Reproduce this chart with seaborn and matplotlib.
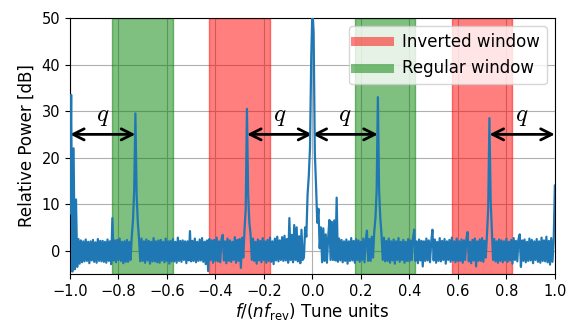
import numpy as np
import matplotlib
matplotlib.use("Agg")
import matplotlib.pyplot as plt
import seaborn as sns
from matplotlib.lines import Line2D

# ---- data (relative power in dB, one value per 0.005 tune units) ----
seg1 = [8, 33.5, -4.5, 22, -4, 11, -3.5, 2.5, -2.8, 2.2, -2.5, 2.0, -2.3, 2.4, -2.2, 1.9, -2.7, 2.0, -2.1, 2.3, -2.4, 1.8, -2.6, 2.5, -2.2]
seg2 = [2.1, -2.3, 2.1, -2.4, 1.9, -2.6, 2.4, -2.2, 2.0, -2.9, 7.0, -2.1, 2.2, -2.5, 2.3, -2.0, 2.6, -2.2, 1.9, -2.7, 2.0, -2.4, 2.3, -2.4, 1.9]
seg3 = [-2.0, 3.0, 6.5, 13, 29.5, 12, 6, 2.5, -2.3, 2.6, -2.2, 2.0, -2.6, 2.4, -2.1, 2.1, -2.8, 1.9, -2.3, 2.7, -2.3, 2.0, -2.5, 2.2, -2.6]
seg4 = [2.3, -2.1, 1.9, -2.5, 2.6, -2.2, 2.0, -2.8, 2.1, -2.3, 2.5, -2.3, 1.9, -2.6, 2.8, -2.2, 2.1, -2.4, 2.2, -2.0, 2.0, -2.7, 2.0, -2.1, 4.2]
seg5 = [-2.3, 2.1, -2.2, 2.6, -2.5, 1.9, -2.2, 2.4, -2.1, 2.7, -2.4, 1.9, -2.9, 2.2, -4.4, 2.5, -2.0, 2.2, -2.6, 2.3, -2.2, 2.8, -2.3, 2.0, -2.5]
seg6 = [2.4, 3.4, -2.1, 2.0, -2.7, 2.6, -2.2, 2.2, -2.4, 1.9, -2.0, 2.9, -2.6, 2.3, -2.2, 2.5, -3.7, 2.8, -1.5, 4.5, 9, 30.5, 12, 6, 3.5]
seg7 = [-2.0, 2.6, -2.2, 1.9, -2.8, 2.4, -2.1, 2.1, -2.5, 2.7, -2.0, 2.0, -2.6, 2.3, -2.2, 2.8, -2.4, 2.0, -2.9, 2.6, -2.1, 3.0, -2.3, 2.2, -2.0]
seg8 = [2.9, -2.2, 3.2, -2.1, 2.5, -2.6, 7.0, -2.0, 3.4, -2.5, 5.5, -2.0, 5.0, -2.3, 3.1, -2.7, 4.5, -2.0, -1.5, 5, 3, 12, 16, 22, 41]
seg9 = [52, 47, 21, 14, 6, 9, 0.5, 5, -2.5, 4.8, -2.2, 3.5, -2.6, 2.8, 6.6, -2.0, 6.2, -2.0, 6.5, -2.1, 11.4, -2.4, 2.6, -2.1, 2.3]
seg10 = [-2.5, 2.0, -2.2, 2.4, -2.8, 2.0, -2.2, 2.7, -2.1, 2.1, -2.6, 2.5, -2.0, 2.2, -2.4, 1.9, -2.0, 2.6, -2.5, 2.3, 4.3, -2.2, 2.5, -2.2, 3.0]
seg11 = [-1.5, 4, 7, 13, 33, 13, 7, 3.5, -2.0, 2.8, -2.3, 2.1, -2.2, 2.6, -2.6, 2.0, -2.1, 2.4, -2.8, 2.0, -2.0, 2.7, -2.4, 1.9, -2.0]
seg12 = [2.3, -2.6, 1.9, -2.2, 2.5, -2.3, 2.2, -2.0, 2.8, 4.5, -2.2, 2.0, -2.7, 2.4, -2.1, 2.1, -3.4, 2.0, -2.2, 2.6, -2.1, 2.2, -2.5, 1.9, 4.5]
seg13 = [-2.1, 2.4, -2.6, 1.9, -2.2, 2.7, -2.3, 2.1, -2.0, 2.5, -2.8, 2.0, -2.0, 2.3, -2.4, 2.8, -2.1, 2.0, -2.5, 2.6, -2.2, 2.0, -2.2, 2.4, -2.6]
seg14 = [2.2, -2.0, 2.5, 4.0, -2.3, 1.9, -2.7, 2.3, -2.1, 2.6, -3.4, 2.0, -2.2, 2.4, -2.2, 2.7, -2.4, 2.1, -1.5, 3.5, 9, 28.5, 11, 4.5, -2.0]
seg15 = [2.5, -2.3, 2.0, -2.6, 2.4, -2.2, 2.2, -2.5, 2.0, -2.1, 2.6, -2.4, 1.9, -2.1, 2.3, -2.8, 2.7, -2.0, 2.1, -2.3, 2.5, 3.5, -3.5, 2.2, -2.2]
seg16 = [2.4, -2.5, 1.9, -2.2, 2.6, -2.1, 2.3, -2.7, 2.0, -2.0, 2.5, -2.4, 2.0, -2.6, 2.8, -2.2, 2.2, -2.3, 3.0, -2.5, 2.1, -3.0, 2.7, -2.4, 2.0, 14]

power = (seg1 + seg2 + seg3 + seg4 + seg5 + seg6 + seg7 + seg8 + seg9 + seg10 +
         seg11 + seg12 + seg13 + seg14 + seg15 + seg16)
tune = np.linspace(-1.0, 1.0, len(power))

inverted_windows = [(-0.425, -0.175), (0.575, 0.825)]
regular_windows = [(-0.825, -0.575), (0.175, 0.425)]
q_arrows = [(-1.0, -0.73), (-0.27, 0.0), (0.0, 0.27), (0.73, 1.0)]
arrow_level = 25
q_level = 29

legend_labels = ["Inverted window", "Regular window"]
x_ticks = [-1.0, -0.8, -0.6, -0.4, -0.2, 0.0, 0.2, 0.4, 0.6, 0.8, 1.0]
y_ticks = [0, 10, 20, 30, 40, 50]

# ---- figure ----
fig = plt.figure(figsize=(5.78, 3.23), dpi=100)
ax = fig.add_axes([0.121, 0.152, 0.839, 0.792])
ax.set_axisbelow(True)
ax.grid(True)

for lo, hi in inverted_windows:
    ax.axvspan(lo, hi, color="red", alpha=0.5, zorder=1)
for lo, hi in regular_windows:
    ax.axvspan(lo, hi, color="green", alpha=0.5, zorder=1)

sns.lineplot(x=tune, y=power, ax=ax, color="#1f77b4", linewidth=1.6,
             estimator=None, sort=False, zorder=3)

for a, b in q_arrows:
    ax.annotate("", xy=(b, arrow_level), xytext=(a, arrow_level),
                arrowprops=dict(arrowstyle="<->", color="black", lw=2,
                                mutation_scale=20, shrinkA=0, shrinkB=0),
                zorder=2)
    ax.text((a + b) / 2, q_level, "$q$", fontsize=18, ha="center", va="center",
            math_fontfamily="cm", zorder=4)

handles = [Line2D([], [], color="red", alpha=0.5, lw=6.5, solid_capstyle="projecting"),
           Line2D([], [], color="green", alpha=0.5, lw=6.5, solid_capstyle="projecting")]
ax.legend(handles, legend_labels, loc="upper right", fontsize=12)

ax.set_xlim(-1, 1)
ax.set_ylim(-5, 50)
ax.set_xticks(x_ticks)
ax.set_yticks(y_ticks)
ax.tick_params(labelsize=10.5)
ax.set_xlabel(r"$f/(nf_\mathrm{rev})$ Tune units", fontsize=12, labelpad=1.5)
ax.set_ylabel("Relative Power [dB]", fontsize=12)

fig.savefig("out.png", dpi=100)
